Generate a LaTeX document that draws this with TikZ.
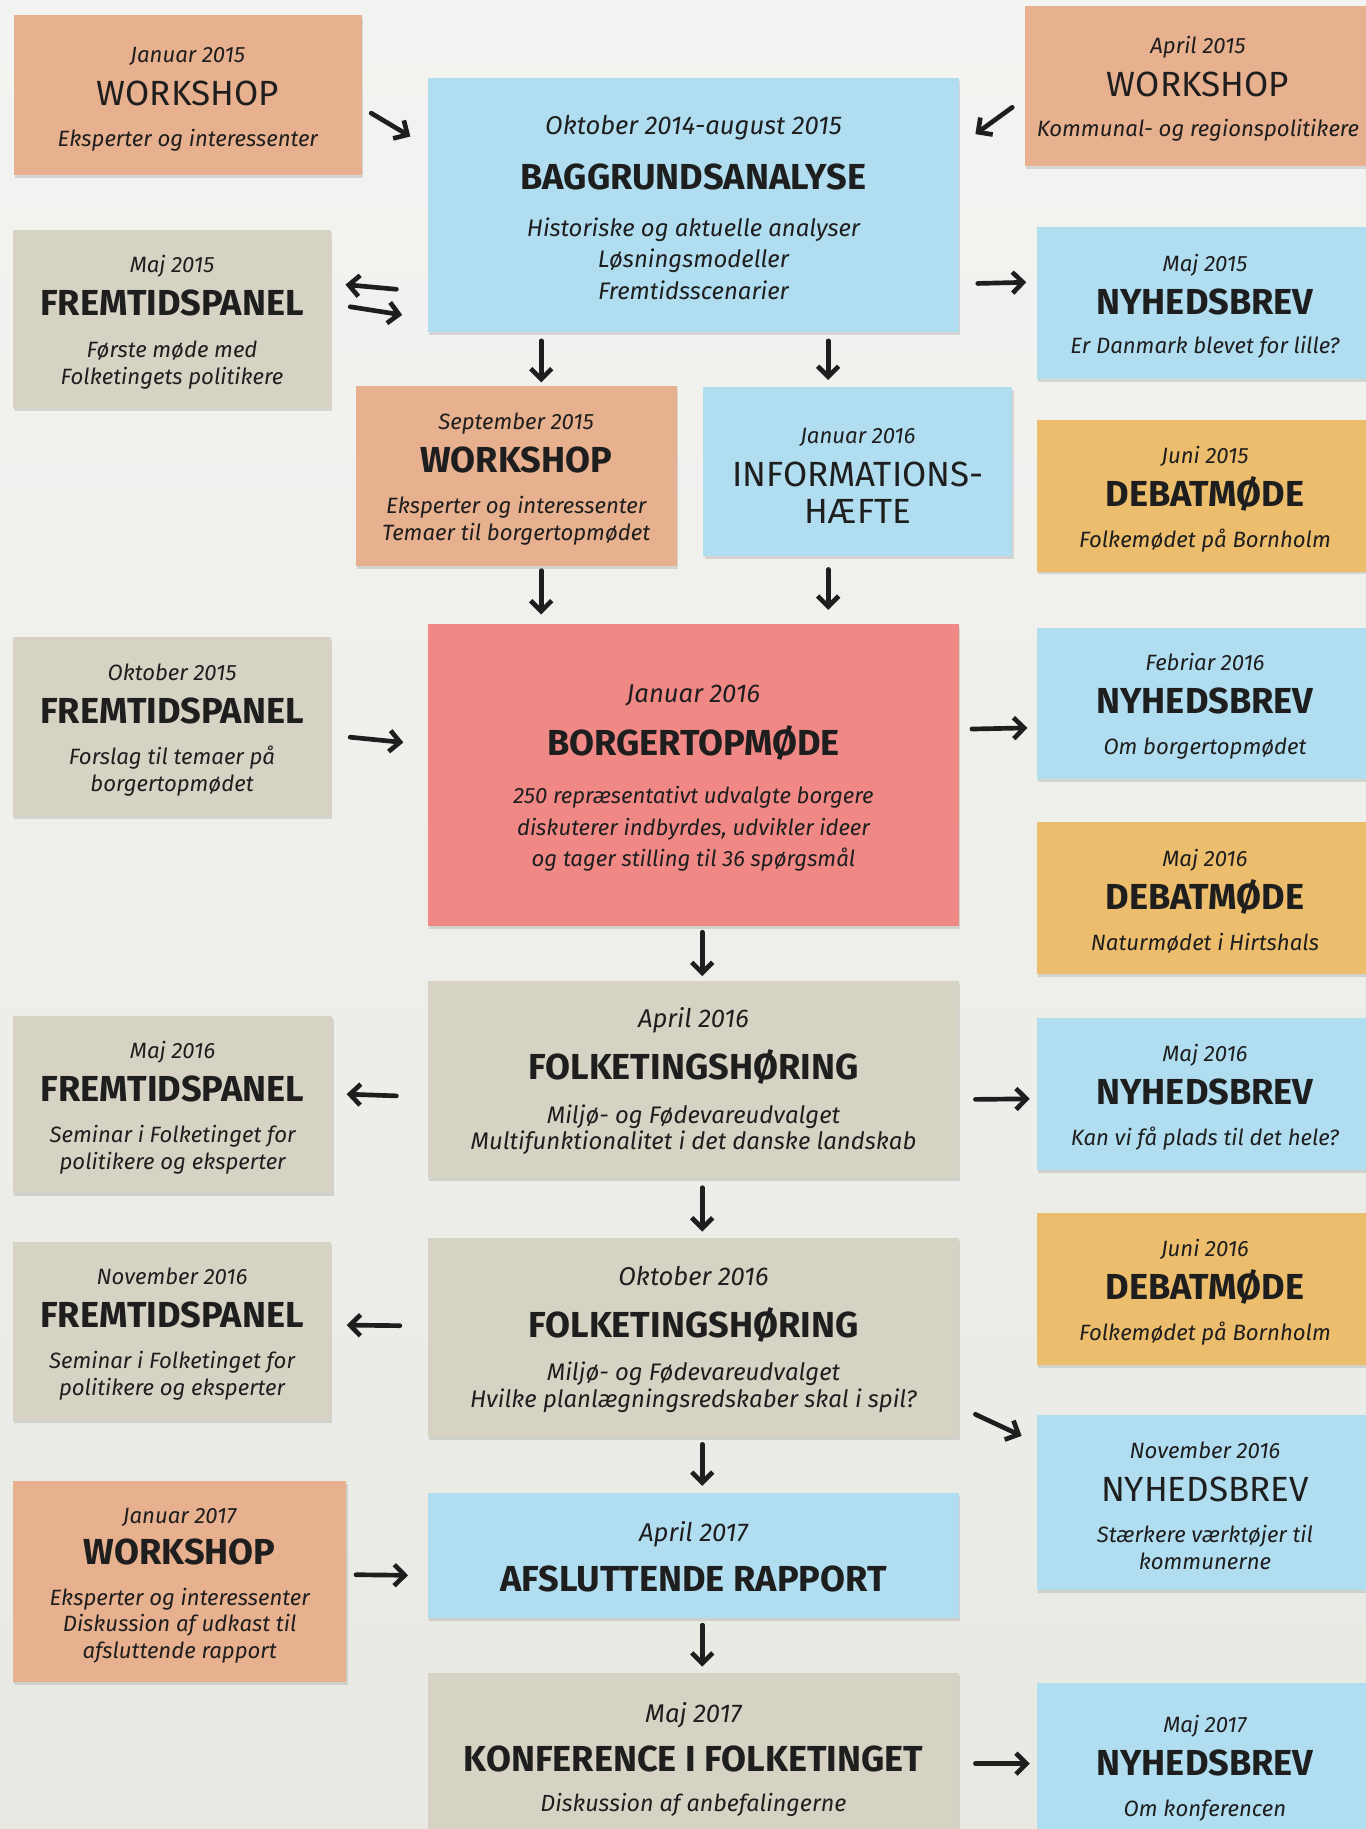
\documentclass[tikz,border=0pt]{standalone}
\usepackage{fontspec}
\setmainfont{Fira Sans}
\usepackage{tikz}
\usetikzlibrary{arrows.meta,calc,shadows}

\definecolor{baggrundlys}{HTML}{F3F3F1}
\definecolor{baggrundmoerk}{HTML}{E9E9E4}
\definecolor{wsfarve}{HTML}{E7B08E}
\definecolor{blaa}{HTML}{B1DDF1}
\definecolor{graa}{HTML}{D6D3C4}
\definecolor{gul}{HTML}{ECBD6C}
\definecolor{roed}{HTML}{F08986}
\definecolor{blaek}{HTML}{1E1E1E}

\newcommand{\dato}[1]{\rule{0pt}{20pt}#1}
\newcommand{\stordato}[1]{\rule{0pt}{20pt}{\fontsize{22}{23}\selectfont #1}}
\newcommand{\titel}[1]{{\fontsize{31}{30}\selectfont\upshape\bfseries #1}}
\newcommand{\tyndtitel}[1]{{\fontsize{30}{30}\selectfont\upshape #1}}
\lineskiplimit=-100pt

\begin{document}
\begin{tikzpicture}[x=1pt,y=-1pt,
                    box/.style={rectangle,inner sep=0pt,align=center,text=blaek,
                      font=\fontsize{19}{23}\selectfont\itshape,
                      drop shadow={shadow xshift=1pt,shadow yshift=-2.5pt,opacity=0.25}},
                    stor/.style={box,font=\fontsize{20.5}{27}\selectfont\itshape},
                    hoering/.style={box,fill=graa,font=\fontsize{20.5}{23}\selectfont\itshape},
                    workshop/.style={box,fill=wsfarve},
                    info/.style={box,fill=blaa},
                    panel/.style={box,fill=graa},
                    debat/.style={box,fill=gul},
                    pil/.style={color=blaek,line width=4pt,line cap=round,
                      -{Straight Barb[length=9pt,width=18pt]}}]

  \shade[top color=baggrundlys,bottom color=baggrundmoerk] (0,0) rectangle (1171,1568);
  \useasboundingbox (0,0) rectangle (1171,1568);

  % venstre kolonne
  \node[workshop,minimum width=298,minimum height=137] (1) at (161,81.5)
    {\dato{Januar 2015}\\[14pt]\tyndtitel{WORKSHOP}\\[12pt]Eksperter og interessenter};
  \node[panel,minimum width=273,minimum height=153] (4) at (147.5,273.5)
    {\dato{Maj 2015}\\[14pt]\titel{FREMTIDSPANEL}\\[13pt]Første møde med\\Folketingets politikere};
  \node[panel,minimum width=273,minimum height=154] (9) at (147.5,623)
    {\dato{Oktober 2015}\\[14pt]\titel{FREMTIDSPANEL}\\[12pt]Forslag til temaer på\\borgertopmødet};
  \node[panel,minimum width=274,minimum height=152] (14) at (148,947)
    {\dato{Maj 2016}\\[14pt]\titel{FREMTIDSPANEL}\\[12pt]Seminar i Folketinget for\\politikere og eksperter};
  \node[panel,minimum width=273,minimum height=152] (18) at (147.5,1141)
    {\dato{November 2016}\\[14pt]\titel{FREMTIDSPANEL}\\[12pt]Seminar i Folketinget for\\politikere og eksperter};
  \node[workshop,minimum width=286,minimum height=172] (20) at (154,1356)
    {\dato{Januar 2017}\\[12pt]\titel{WORKSHOP}\\[12pt]Eksperter og interessenter\\Diskussion af udkast til\\afsluttende rapport};

  % midten
  \node[stor,fill=blaa,minimum width=455,minimum height=218] (2) at (594.5,176)
    {\stordato{Oktober 2014-august 2015}\\[20pt]\titel{BAGGRUNDSANALYSE}\\[13pt]Historiske og aktuelle analyser\\Løsningsmodeller\\Fremtidsscenarier};
  \node[workshop,minimum width=275,minimum height=154] (6) at (442.5,408)
    {\dato{September 2015}\\[14pt]\titel{WORKSHOP}\\[12pt]Eksperter og interessenter\\Temaer til borgertopmødet};
  \node[info,minimum width=265,minimum height=145] (7) at (735.5,404.5)
    {\dato{Januar 2016}\\[14pt]\tyndtitel{INFORMATIONS-}\\[8pt]\tyndtitel{HÆFTE}};
  \node[box,fill=roed,font=\fontsize{19}{27}\selectfont\itshape,minimum width=455,minimum height=259] (10) at (594.5,664.5)
    {\stordato{Januar 2016}\\[19pt]\titel{BORGERTOPMØDE}\\[14pt]250 repræsentativt udvalgte borgere\\diskuterer indbyrdes, udvikler ideer\\og tager stilling til 36 spørgsmål};
  \node[hoering,minimum width=455,minimum height=169] (13) at (594.5,925.5)
    {\stordato{April 2016}\\[22pt]\titel{FOLKETINGSHØRING}\\[14pt]Miljø- og Fødevareudvalget\\Multifunktionalitet i det danske landskab};
  \node[hoering,minimum width=455,minimum height=171] (17) at (594.5,1146.5)
    {\stordato{Oktober 2016}\\[22pt]\titel{FOLKETINGSHØRING}\\[14pt]Miljø- og Fødevareudvalget\\Hvilke planlægningsredskaber skal i spil?};
  \node[info,minimum width=455,minimum height=107] (21) at (594.5,1333.5)
    {\stordato{April 2017}\\[20pt]\titel{AFSLUTTENDE RAPPORT}};
  \node[panel,font=\fontsize{20}{23}\selectfont\itshape,minimum width=455,minimum height=146] (22) at (594.5,1507)
    {\stordato{Maj 2017}\\[19pt]\titel{KONFERENCE I FOLKETINGET}\\[12pt]Diskussion af anbefalingerne};

  % hoejre kolonne
  \node[workshop,minimum width=296,minimum height=137] (3) at (1027,73.5)
    {\dato{April 2015}\\[14pt]\tyndtitel{WORKSHOP}\\[12pt]Kommunal- og regionspolitikere};
  \node[info,minimum width=288,minimum height=130] (5) at (1033,260)
    {\dato{Maj 2015}\\[14pt]\titel{NYHEDSBREV}\\[11pt]Er Danmark blevet for lille?};
  \node[debat,minimum width=288,minimum height=130] (8) at (1033,425)
    {\dato{Juni 2015}\\[14pt]\titel{DEBATMØDE}\\[12pt]Folkemødet på Bornholm};
  \node[info,minimum width=288,minimum height=130] (11) at (1033,603)
    {\dato{Febriar 2016}\\[14pt]\titel{NYHEDSBREV}\\[12pt]Om borgertopmødet};
  \node[debat,minimum width=288,minimum height=130] (12) at (1033,770)
    {\dato{Maj 2016}\\[14pt]\titel{DEBATMØDE}\\[12pt]Naturmødet i Hirtshals};
  \node[info,minimum width=288,minimum height=130] (15) at (1033,938)
    {\dato{Maj 2016}\\[14pt]\titel{NYHEDSBREV}\\[12pt]Kan vi få plads til det hele?};
  \node[debat,minimum width=288,minimum height=130] (16) at (1033,1105)
    {\dato{Juni 2016}\\[14pt]\titel{DEBATMØDE}\\[12pt]Folkemødet på Bornholm};
  \node[info,minimum width=288,minimum height=150] (19) at (1033,1288)
    {\dato{November 2016}\\[14pt]\tyndtitel{NYHEDSBREV}\\[12pt]Stærkere værktøjer til\\kommunerne};
  \node[info,minimum width=288,minimum height=140] (23) at (1033,1513)
    {\dato{Maj 2017}\\[14pt]\titel{NYHEDSBREV}\\[12pt]Om konferencen};

  % pile
  \path[pil]
    ($(1.east)+(8,15.5)$)    edge ($(2.west)+(-15,-59)$)
    ($(3.west)+(-11,18.5)$)  edge ($(2.east)+(14,-61)$)
    ($(2.west)+(-27,72)$)    edge ($(4.east)+(12,-29.5)$)
    ($(4.east)+(16,-10.5)$)  edge ($(2.west)+(-22,94)$)
    ($(2.east)+(16,67)$)     edge ($(5.west)+(-9,-18)$)
    ($(2.south)+(-130.5,7)$) edge ($(6.north)+(21.5,-3)$)
    ($(2.south)+(115.5,7)$)  edge ($(7.north)+(-25.5,-6)$)
    ($(6.south)+(21.5,4)$)   edge ($(10.north)+(-130.5,-8)$)
    ($(7.south)+(-25.5,11)$) edge ($(10.north)+(115.5,-12)$)
    ($(9.east)+(16,9)$)      edge ($(10.west)+(-21,-28)$)
    ($(10.east)+(11,-39.5)$) edge ($(11.west)+(-8,21)$)
    ($(10.south)+(7.5,5)$)   edge ($(13.north)+(7.5,-4)$)
    ($(13.west)+(-27,14)$)   edge ($(14.east)+(12,-9)$)
    ($(13.east)+(14,17)$)    edge ($(15.west)+(-6,4)$)
    ($(13.south)+(7.5,8)$)   edge ($(17.north)+(7.5,-5)$)
    ($(17.west)+(-24,-10)$)  edge ($(18.east)+(13,-5)$)
    ($(17.east)+(14,66)$)    edge ($(19.west)+(-13,-57)$)
    ($(17.south)+(7.5,6)$)   edge ($(21.north)+(7.5,-6)$)
    ($(20.east)+(8,-6)$)     edge ($(21.west)+(-17,17)$)
    ($(21.south)+(7.5,6)$)   edge ($(22.north)+(7.5,-5)$)
    ($(22.east)+(14,5)$)     edge ($(23.west)+(-6,-1)$);
\end{tikzpicture}
\end{document}
